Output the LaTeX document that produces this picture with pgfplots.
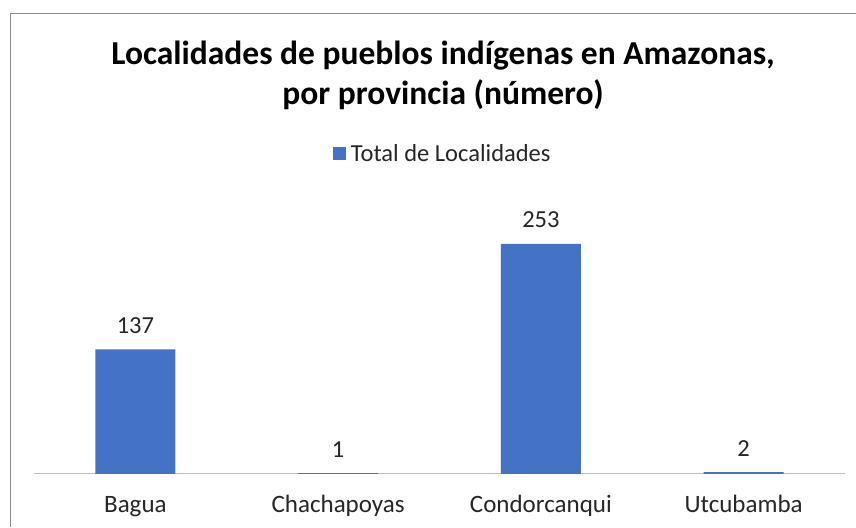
\documentclass[border=0pt]{standalone}
\usepackage{pgfplots}
\pgfplotsset{compat=1.18}
\usepackage{fontspec}
\setmainfont{Carlito}
\definecolor{barblue}{HTML}{4472C4}
\definecolor{txt}{HTML}{262626}
\begin{document}
\begin{tikzpicture}[x=1pt,y=1pt]
\path[use as bounding box] (0,0) rectangle (856,527);
\draw[black!45, line width=1pt] (10,0) -- (10,513) -- (856,513);
\node[anchor=base, font=\fontsize{33.5}{40}\selectfont\bfseries, text=black] at (443,462) {Localidades de pueblos indígenas en Amazonas,};
\node[anchor=base, font=\fontsize{33.5}{40}\selectfont\bfseries, text=black] at (443,422) {por provincia (número)};
\begin{axis}[
  at={(34pt,53pt)}, anchor=south west,
  scale only axis, width=811pt, height=283pt,
  xmin=-0.5, xmax=3.5, ymin=0, ymax=311,
  axis x line*=bottom, axis y line=none,
  x axis line style={black!25, line width=1pt},
  xtick={0,1,2,3},
  xticklabels={Bagua,Chachapoyas,Condorcanqui,Utcubamba},
  major tick length=0pt,
  xticklabel style={anchor=base, yshift=-38pt, font=\fontsize{25}{28}\selectfont, text=txt},
  ybar, bar width=80pt,
  nodes near coords,
  /pgf/number format/assume math mode=true,
  every node near coord/.append style={anchor=base, yshift=16pt, font=\fontsize{24.5}{28}\selectfont, text=txt},
  legend style={at={(rel axis cs:0.504,1.131)}, anchor=center, draw=none, column sep=3pt, font=\fontsize{24.5}{28}\selectfont, text=txt},
  legend image code/.code={\fill[barblue] (0pt,-6.5pt) rectangle (13pt,6.5pt);},
]
\addplot[fill=barblue, draw=none] coordinates {(0,137) (1,1) (2,253) (3,2)};
\addlegendentry{Total de Localidades}
\end{axis}
\end{tikzpicture}
\end{document}
